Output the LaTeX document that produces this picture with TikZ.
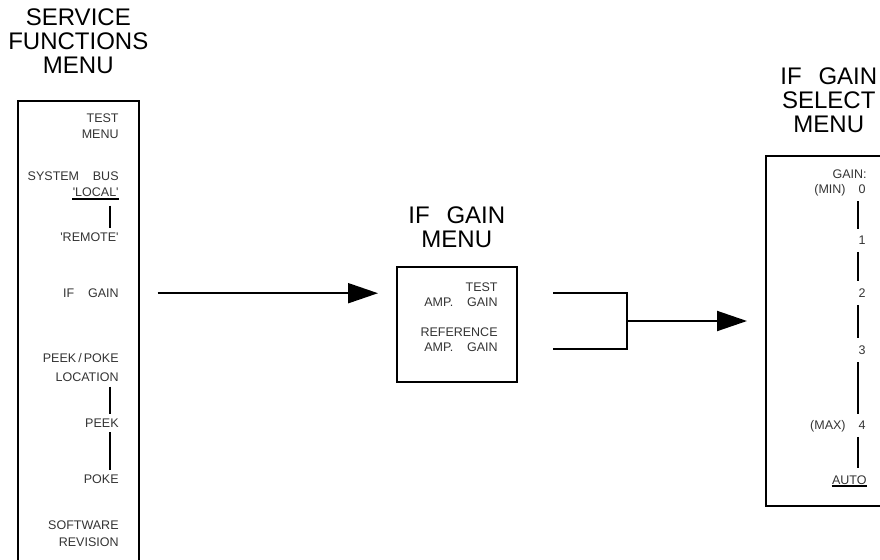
\documentclass[tikz,border=0pt]{standalone}
\usepackage{fontspec}
\setmainfont{Liberation Sans}
\usepackage{tikz}
\usetikzlibrary{arrows.meta, positioning}
\newcommand{\titlefont}{\fontsize{12}{12}\selectfont}
\newcommand{\entryfont}{\fontsize{6.25}{7.5}\selectfont}
\newcommand{\wsp}{\hspace{1.1em}}
\newcommand{\tsp}{\hspace{0.7em}}

\begin{document}
\begin{tikzpicture}[
    x=0.5pt, y=-0.5pt,
    menubox/.style={rectangle, draw, line width=0.8pt, inner sep=0pt, anchor=north west},
    heading/.style={font=\titlefont, align=center, inner sep=0pt},
    entry/.style={font=\entryfont, text=black!80, inner sep=0pt, anchor=base east},
    link/.style={line width=0.7pt, shorten <=2.25pt, shorten >=2.25pt},
    wire/.style={line width=1pt},
    arrow/.style={wire, -{Triangle[length=15pt, width=10pt]}, shorten <=9pt, shorten >=9pt}
]
    \useasboundingbox (0,0) rectangle (880,559);
    \clip (0,0) rectangle (880,559);
    % menu boxes
    \node [menubox, minimum width=60.5pt, minimum height=240pt] (svcbox) at (17,100) {};
    \node [menubox, minimum width=60pt, minimum height=57.5pt] (ifbox) at (396,266) {};
    \node [menubox, minimum width=70pt, minimum height=175pt] (selbox) at (765,155) {};
    % headings
    \node [heading, above=13pt of svcbox] (svctitle) {SERVICE\\FUNCTIONS\\MENU};
    \node [heading, above=8.75pt of ifbox] (iftitle) {IF\tsp GAIN\\MENU};
    \node [heading, above=10.75pt of selbox, xshift=-3.5pt] (seltitle) {IF\tsp GAIN\\SELECT\\MENU};
    % service functions entries
    \node [entry] (svctest) at (119,122.5) {TEST};
    \node [entry] (svcmenu) at (119,138.5) {MENU};
    \node [entry] (sysbus) at (119,180.5) {SYSTEM\wsp BUS};
    \node [entry] (local) at (119,196.5) {\textquotesingle LOCAL\textquotesingle};
    \node [entry] (remote) at (119,241.5) {\textquotesingle REMOTE\textquotesingle};
    \node [entry] (ifgain) at (119,297.5) {IF\wsp GAIN};
    \node [entry] (peekpoke) at (119,362.5) {PEEK\,/\,POKE};
    \node [entry] (location) at (119,381.5) {LOCATION};
    \node [entry] (peek) at (119,427.5) {PEEK};
    \node [entry] (poke) at (119,483.5) {POKE};
    \node [entry] (software) at (119,529.5) {SOFTWARE};
    \node [entry] (revision) at (119,546.5) {REVISION};
    \coordinate (svcrail) at (110,0);
    \draw [wire] ([yshift=-0.8pt]local.south west) -- ([yshift=-0.8pt]local.south east);
    \draw [link] ([yshift=-2pt]local.south -| svcrail) -- (remote.north -| svcrail);
    \draw [link] (location.south -| svcrail) -- (peek.north -| svcrail);
    \draw [link] (peek.south -| svcrail) -- (poke.north -| svcrail);
    % if gain menu entries
    \node [entry] (testamp) at (498,291.5) {TEST};
    \node [entry] (testgain) at (498,306.5) {AMP.\wsp GAIN};
    \node [entry] (refamp) at (498,336.5) {REFERENCE};
    \node [entry] (refgain) at (498,351.5) {AMP.\wsp GAIN};
    % if gain select entries
    \node [entry] (gainhdr) at (867,178.5) {GAIN:};
    \node [entry] (gmin) at (846,193.5) {(MIN)};
    \node [entry] (g0) at (866,193.5) {0};
    \node [entry] (g1) at (866,244.5) {1};
    \node [entry] (g2) at (866,297.5) {2};
    \node [entry] (g3) at (866,354.5) {3};
    \node [entry] (gmax) at (846,429.5) {(MAX)};
    \node [entry] (g4) at (866,429.5) {4};
    \node [entry] (gauto) at (867,484) {AUTO};
    \draw [wire] ([yshift=-0.8pt]gauto.south west) -- ([yshift=-0.8pt]gauto.south east);
    \coordinate (selrail) at (858,0);
    \foreach \a/\b in {g0/g1, g1/g2, g2/g3, g3/g4, g4/gauto}
        \draw [link, shorten <=3.5pt, shorten >=3.5pt] (\a.south -| selrail) -- (\b.north -| selrail);
    % connectors
    \draw [arrow] (svcbox.east |- ifgain) -- (ifbox.west |- ifgain);
    \coordinate (forktop) at (553,293);
    \coordinate (forkbot) at (553,349);
    \coordinate (forkmid) at (627,321);
    \draw [wire] (forktop) -| (forkmid) |- (forkbot);
    \draw [arrow, shorten <=0pt] (forkmid) -- (forkmid -| selbox.west);
\end{tikzpicture}
\end{document}
